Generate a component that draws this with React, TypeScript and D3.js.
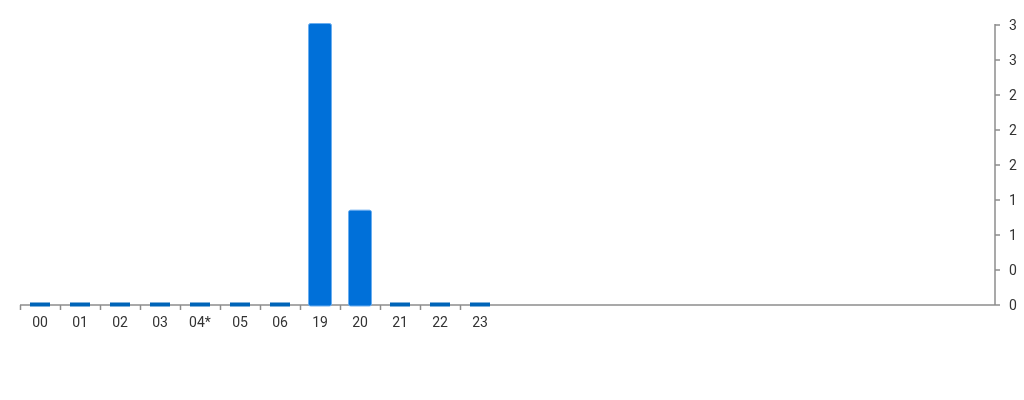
import React from "react";
import * as d3 from "d3";

const hours = ["00", "01", "02", "03", "04*", "05", "06", "19", "20", "21", "22", "23"];
const counts = [0, 0, 0, 0, 0, 0, 0, 3, 1, 0, 0, 0];
const yTickValues = [0, 0.375, 0.75, 1.125, 1.5, 1.875, 2.25, 2.625, 3];

const W = 1024;
const H = 400;
const left = 20;
const right = 995;
const top = 25;
const bottom = 305;

export default function App() {
  const x = d3.scaleBand<string>().domain(hours).range([left, left + 40 * hours.length]).paddingInner(0.5).paddingOuter(0.25);
  const y = d3.scaleLinear().domain([0, 3]).range([bottom, top]);
  const fmt = d3.format(".0f");
  const step = x.step();
  const axisColor = "#8c8c8c";
  const textColor = "#333";
  const font = "Roboto, sans-serif";

  return (
    <div style={{ position: "fixed", left: 0, top: 0 }}>
      <svg width={W} height={H} style={{ display: "block" }}>
        {/* x axis */}
        <line x1={left} x2={right} y1={bottom} y2={bottom} stroke={axisColor} strokeWidth={1.5} />
        {hours.map((h) => {
          const tx = Math.round(x(h)! - (step - x.bandwidth()) / 2) + 0.5;
          return <line key={"t" + h} x1={tx} x2={tx} y1={bottom} y2={bottom + 5} stroke={axisColor} strokeWidth={1.5} />;
        })}
        {hours.map((h) => (
          <text
            key={"l" + h}
            x={x(h)! + x.bandwidth() / 2}
            y={bottom + 21.5}
            textAnchor="middle"
            fontFamily={font}
            fontSize={14}
            fill={textColor}
          >
            {h}
          </text>
        ))}
        {/* y axis right */}
        <line x1={right} x2={right} y1={top - 1} y2={bottom} stroke={axisColor} strokeWidth={1.5} />
        {yTickValues.map((t, i) => (
          <g key={"y" + i}>
            <line x1={right} x2={right + 5} y1={y(t)} y2={y(t)} stroke={axisColor} strokeWidth={1.5} />
            <text x={right + 14} y={y(t)} dy="0.35em" fontFamily={font} fontSize={14} fill={textColor}>
              {fmt(t)}
            </text>
          </g>
        ))}
        {/* bars */}
        {hours.map((h, i) => {
          const v = counts[i];
          const bx = x(h)!;
          const bw = x.bandwidth();
          if (v === 0) {
            return <rect key={h} x={bx} y={bottom - 2.5} width={bw} height={4} fill="#0064b8" />;
          }
          const yt = y(v) - 1.5;
          return (
            <rect
              key={h}
              x={bx - 1.5}
              y={yt}
              width={bw + 3}
              height={bottom + 1 - yt}
              rx={2}
              fill="#0070d9"
              stroke="#6aaef0"
              strokeWidth={1}
            />
          );
        })}
      </svg>
    </div>
  );
}
